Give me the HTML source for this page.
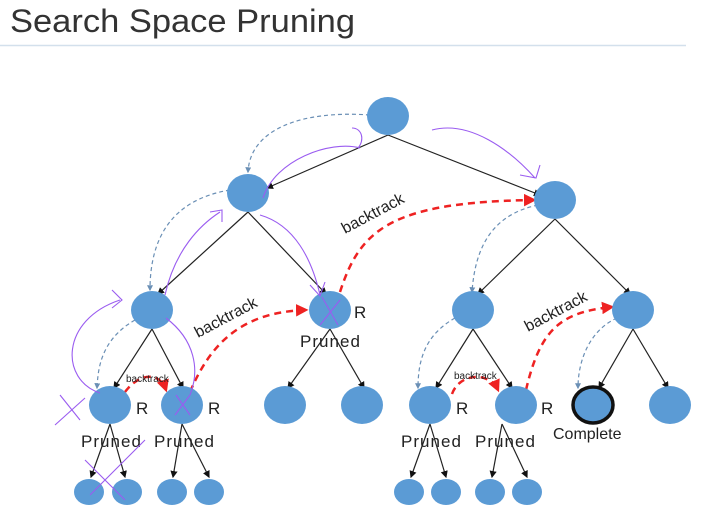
<!DOCTYPE html>
<html><head><style>
html,body{margin:0;padding:0;background:#fff;width:713px;height:512px;overflow:hidden}
svg{display:block}
</style></head><body>
<svg width="713" height="512" viewBox="0 0 713 512" xmlns="http://www.w3.org/2000/svg" font-family="Liberation Sans, sans-serif">
<defs>
<marker id="a" markerWidth="6" markerHeight="6" refX="5" refY="3" orient="auto"><path d="M0,0 L6,3 L0,6z" fill="#111"/></marker>
<marker id="r" markerWidth="5" markerHeight="5" refX="4" refY="2.5" orient="auto"><path d="M0,0 L5,2.5 L0,5z" fill="#e22"/></marker>
<marker id="b" markerWidth="5" markerHeight="5" refX="4" refY="2.5" orient="auto"><path d="M0,0 L5,2.5 L0,5z" fill="#6a8fb5"/></marker>
</defs>
<text x="10" y="32" font-size="32" fill="#333" textLength="345" lengthAdjust="spacingAndGlyphs">Search Space Pruning</text>
<line x1="0" y1="45.5" x2="686" y2="45.5" stroke="#d3e0ec" stroke-width="1.5"/>
<g stroke="#222" stroke-width="1.2" marker-end="url(#a)">
<line x1="388" y1="135" x2="267" y2="188"/><line x1="388" y1="135" x2="540" y2="195"/>
<line x1="248" y1="212" x2="158" y2="294"/><line x1="248" y1="212" x2="326" y2="294"/>
<line x1="555" y1="219" x2="478" y2="294"/><line x1="555" y1="219" x2="630" y2="294"/>
<line x1="152" y1="329" x2="114" y2="388"/><line x1="152" y1="329" x2="183" y2="388"/>
<line x1="330" y1="329" x2="288" y2="388"/><line x1="330" y1="329" x2="364" y2="388"/>
<line x1="473" y1="329" x2="436" y2="388"/><line x1="473" y1="329" x2="512" y2="388"/>
<line x1="633" y1="329" x2="599" y2="388"/><line x1="633" y1="329" x2="668" y2="388"/>
<line x1="110" y1="424" x2="91" y2="477"/><line x1="110" y1="424" x2="125" y2="477"/>
<line x1="182" y1="424" x2="173" y2="477"/><line x1="182" y1="424" x2="209" y2="477"/>
<line x1="430" y1="424" x2="411" y2="477"/><line x1="430" y1="424" x2="446" y2="477"/>
<line x1="502" y1="424" x2="492" y2="477"/><line x1="502" y1="424" x2="527" y2="477"/>
</g>
<g fill="none" stroke="#6a8fb5" stroke-width="1.2" stroke-dasharray="4,3" marker-end="url(#b)">
<path d="M370,115 C300,110 250,130 248,172"/>
<path d="M230,190 C170,200 150,240 150,290"/>
<path d="M538,205 C490,215 475,250 472,292"/>
<path d="M135,320 C100,340 98,370 97,388"/>
<path d="M455,318 C425,335 418,360 418,388"/>
<path d="M617,318 C590,330 578,360 578,388"/>
</g>
<g fill="none" stroke="#e22" stroke-width="2.5" stroke-dasharray="7,5" marker-end="url(#r)">
<path d="M340,292 C360,230 390,202 534,200"/>
<path d="M190,392 C210,345 240,312 306,310"/>
<path d="M125,392 C140,372 160,372 166,390"/>
<path d="M526,390 C540,330 560,312 612,307"/>
<path d="M452,394 C460,372 490,372 498,390"/>
</g>
<g fill="#5b9bd5">
<ellipse cx="388" cy="116" rx="21" ry="19"/>
<ellipse cx="248" cy="193" rx="21" ry="19"/><ellipse cx="555" cy="200" rx="21" ry="19"/>
<ellipse cx="152" cy="310" rx="21" ry="19"/><ellipse cx="330" cy="310" rx="21" ry="19"/>
<ellipse cx="473" cy="310" rx="21" ry="19"/><ellipse cx="633" cy="310" rx="21" ry="19"/>
<ellipse cx="110" cy="405" rx="21" ry="19"/><ellipse cx="182" cy="405" rx="21" ry="19"/>
<ellipse cx="285" cy="405" rx="21" ry="19"/><ellipse cx="362" cy="405" rx="21" ry="19"/>
<ellipse cx="430" cy="405" rx="21" ry="19"/><ellipse cx="516" cy="405" rx="21" ry="19"/>
<ellipse cx="593" cy="405" rx="20" ry="18" stroke="#111" stroke-width="3.5"/>
<ellipse cx="670" cy="405" rx="21" ry="19"/>
<ellipse cx="89" cy="492" rx="15" ry="13"/><ellipse cx="127" cy="492" rx="15" ry="13"/>
<ellipse cx="172" cy="492" rx="15" ry="13"/><ellipse cx="209" cy="492" rx="15" ry="13"/>
<ellipse cx="409" cy="492" rx="15" ry="13"/><ellipse cx="446" cy="492" rx="15" ry="13"/>
<ellipse cx="490" cy="492" rx="15" ry="13"/><ellipse cx="527" cy="492" rx="15" ry="13"/>
</g>
<g fill="#222" font-size="17">
<text x="300" y="347" textLength="60">Pruned</text><text x="354" y="318">R</text>
<text x="81" y="447" textLength="60">Pruned</text><text x="154" y="447" textLength="60">Pruned</text>
<text x="401" y="447" textLength="60">Pruned</text><text x="475" y="447" textLength="60">Pruned</text>
<text x="553" y="439" font-size="16">Complete</text>
<text x="136" y="414">R</text><text x="208" y="414">R</text>
<text x="456" y="414">R</text><text x="541" y="414">R</text>
<text transform="translate(345,234) rotate(-28)" font-size="16">backtrack</text>
<text transform="translate(198,338) rotate(-28)" font-size="16">backtrack</text>
<text transform="translate(528,332) rotate(-28)" font-size="16">backtrack</text>
<text x="126" y="382" font-size="10">backtrack</text>
<text x="454" y="379" font-size="10">backtrack</text>
</g>
<g fill="none" stroke="#9a5cf0" stroke-width="1.1">
<path d="M263,198 C275,160 330,140 360,148"/><path d="M352,128 C362,128 365,140 358,148"/>
<path d="M432,130 C470,120 510,150 535,178"/><path d="M520,175 L536,178 L540,165"/>
<path d="M165,295 C175,250 200,225 220,212"/><path d="M210,212 L222,210 L222,222"/>
<path d="M260,215 C295,225 312,260 320,295"/><path d="M310,285 L320,296 L325,282"/>
<path d="M120,300 C60,320 60,380 100,393"/><path d="M112,290 L122,300 L112,308"/>
<path d="M166,318 C195,340 200,370 190,395"/>
<path d="M60,395 L80,420 M85,398 L55,425"/>
<path d="M176,395 L190,415 M190,395 L175,415"/>
<path d="M322,297 L338,325 M340,300 L320,325"/>
<path d="M85,460 L125,500 M145,440 L90,495"/>
</g>
</svg>
</body></html>
